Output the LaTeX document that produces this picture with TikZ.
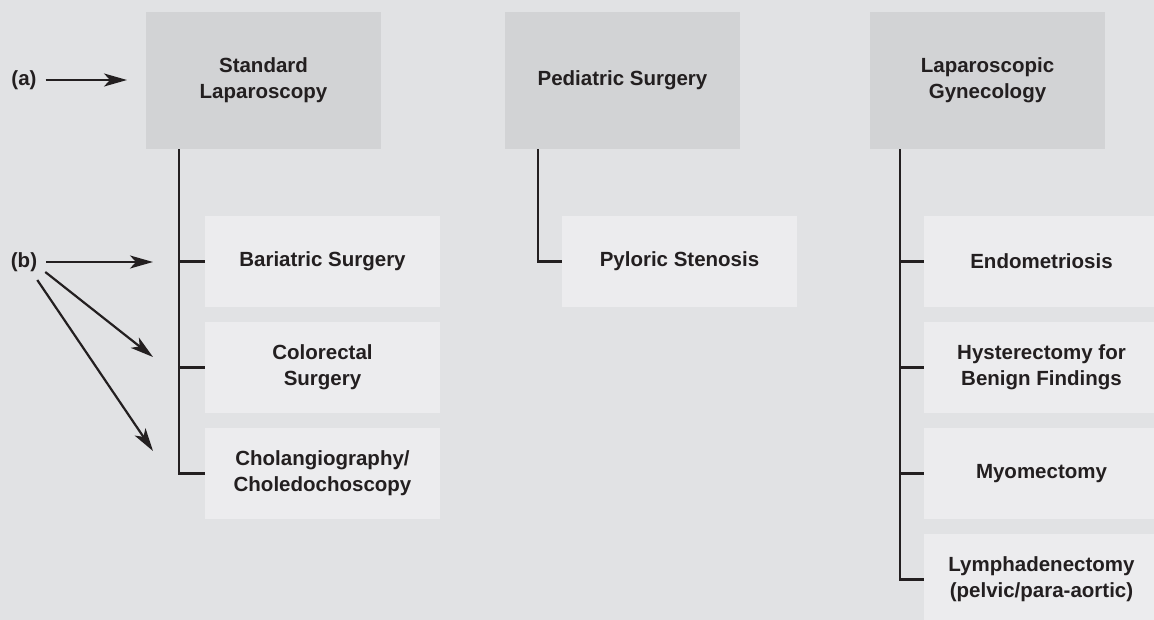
\documentclass[tikz,border=0pt]{standalone}
\usepackage{fontspec}
\setmainfont{Liberation Sans}
\usetikzlibrary{arrows.meta}
\definecolor{bgc}{HTML}{E1E2E4}
\definecolor{headc}{HTML}{D2D3D5}
\definecolor{childc}{HTML}{ECECEE}
\definecolor{inkc}{HTML}{231F20}
\tikzset{
  txt/.style={font=\fontsize{20.5}{26}\selectfont\bfseries, text=inkc},
  headbox/.style={txt, fill=headc, minimum width=235pt, minimum height=137pt, inner sep=0pt,
    align=center},
  childbox/.style={txt, fill=childc, minimum width=235pt, minimum height=91pt, inner sep=0pt,
    align=center},
  lbl/.style={txt, inner sep=1pt},
  tree/.style={draw=inkc, line width=2.4pt},
  pointer/.style={draw=inkc, line width=2.2pt, -{Stealth[length=23pt,width=13pt,inset=6pt]}},
}
\begin{document}
\begin{tikzpicture}[x=1pt,y=-1pt]
\fill[bgc] (0,0) rectangle (1154,620);
\useasboundingbox (0,0) rectangle (1154,620);
\begin{scope}
\clip (0,0) rectangle (1154,620);
% headers
\node[headbox] (h1) at (263.5,80.5) {Standard\\Laparoscopy};
\node[headbox] (h2) at (622.5,80.5) {Pediatric Surgery};
\node[headbox] (h3) at (987.5,80.5) {Laparoscopic\\Gynecology};
% column 1 children
\node[childbox] (c11) at (322.5,261.5) {Bariatric Surgery};
\node[childbox] (c12) at (322.5,367.5) {Colorectal\\Surgery};
\node[childbox] (c13) at (322.5,473.5) {Cholangiography/\\Choledochoscopy};
% column 2 children
\node[childbox] (c21) at (679.5,261.5) {Pyloric Stenosis};
% column 3 children
\node[childbox] (c31) at (1041.5,261.5) {Endometriosis};
\node[childbox] (c32) at (1041.5,367.5) {Hysterectomy for\\Benign Findings};
\node[childbox] (c33) at (1041.5,473.5) {Myomectomy};
\node[childbox] (c34) at (1041.5,579.5) {Lymphadenectomy\\(pelvic/para-aortic)};
% spines
\coordinate (s1) at ([xshift=33pt]h1.south west);
\coordinate (s2) at ([xshift=33pt]h2.south west);
\coordinate (s3) at ([xshift=30pt]h3.south west);
\draw[tree] (s1) |- (c13.west);
\draw[tree] (s1 |- c11.west) -- (c11.west);
\draw[tree] (s1 |- c12.west) -- (c12.west);
\draw[tree] (s2) |- (c21.west);
\draw[tree] (s3) |- (c34.west);
\draw[tree] (s3 |- c31.west) -- (c31.west);
\draw[tree] (s3 |- c32.west) -- (c32.west);
\draw[tree] (s3 |- c33.west) -- (c33.west);
\end{scope}
% labels and pointers
\node[lbl] (a) at (24,80) {(a)};
\node[lbl] (b) at (24,262) {(b)};
\coordinate (ta) at (127,80);
\coordinate (tb1) at (153,262);
\coordinate (tb2) at (153,357);
\coordinate (tb3) at (153,451);
\draw[pointer] ([xshift=8pt]a.east) -- (ta);
\draw[pointer] ([xshift=8pt]b.east) -- (tb1);
\draw[pointer] ([xshift=7pt,yshift=-10pt]b.east) -- (tb2);
\draw[pointer] ([xshift=-1pt,yshift=-18pt]b.east) -- (tb3);
\end{tikzpicture}
\end{document}
